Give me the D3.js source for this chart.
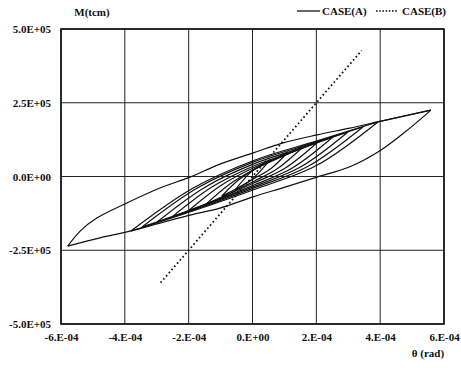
<!DOCTYPE html>
<html>
<head>
<meta charset="utf-8">
<script src="https://cdn.jsdelivr.net/npm/d3@7"></script>
<style>
  body { margin: 0; background: #fff; }
  text { font-family: "Liberation Serif", "Times New Roman", serif; font-weight: bold; font-size: 11px; fill: #111; }
</style>
</head>
<body>
<div id="vis"></div>
<script>
// ejes
const xTicks = [-6e-4, -4e-4, -2e-4, 0, 2e-4, 4e-4, 6e-4];
const xTickLabels = ["-6.E-04", "-4.E-04", "-2.E-04", "0.E+00", "2.E-04", "4.E-04", "6.E-04"];
const yTicks = [-5e5, -2.5e5, 0, 2.5e5, 5e5];
const yTickLabels = ["-5.0E+05", "-2.5E+05", "0.0E+00", "2.5E+05", "5.0E+05"];

// CASE(A): ramas de los lazos de histeresis [theta (rad), M (tcm)]
const loop0Up = [[0.55e-4, 0.56e5], [0.0, 0.20e5], [-0.55e-4, -0.46e5]];
const loop0Down = [[-0.55e-4, -0.46e5], [0.0, -0.08e5], [0.55e-4, 0.56e5]];
const loop1Up = [[1.11e-4, 0.83e5], [0.60e-4, 0.54e5], [0.08e-4, 0.25e5], [-0.44e-4, -0.12e5], [-0.96e-4, -0.66e5]];
const loop1Down = [[-0.96e-4, -0.66e5], [-0.44e-4, -0.37e5], [0.08e-4, -0.05e5], [0.60e-4, 0.29e5], [1.11e-4, 0.83e5]];
const loop2Up = [[1.58e-4, 1.00e5], [0.81e-4, 0.62e5], [0.05e-4, 0.24e5], [-0.72e-4, -0.26e5], [-1.49e-4, -0.97e5]];
const loop2Down = [[-1.49e-4, -0.97e5], [-0.72e-4, -0.57e5], [0.05e-4, -0.16e5], [0.81e-4, 0.29e5], [1.58e-4, 1.00e5]];
const loop3Up = [[2.05e-4, 1.17e5], [1.03e-4, 0.73e5], [0.02e-4, 0.29e5], [-1.00e-4, -0.31e5], [-2.02e-4, -1.17e5]];
const loop3Down = [[-2.02e-4, -1.17e5], [-1.00e-4, -0.72e5], [0.02e-4, -0.23e5], [1.03e-4, 0.29e5], [2.05e-4, 1.17e5]];
const loop4Up = [[2.52e-4, 1.34e5], [1.26e-4, 0.84e5], [0, 0.34e5], [-1.26e-4, -0.35e5], [-2.52e-4, -1.37e5]];
const loop4Down = [[-2.52e-4, -1.37e5], [-1.26e-4, -0.86e5], [0, -0.31e5], [1.26e-4, 0.30e5], [2.52e-4, 1.34e5]];
const loop5Up = [[2.99e-4, 1.51e5], [1.50e-4, 0.96e5], [0, 0.41e5], [-1.50e-4, -0.37e5], [-2.99e-4, -1.54e5]];
const loop5Down = [[-2.99e-4, -1.54e5], [-1.50e-4, -0.97e5], [0, -0.36e5], [1.50e-4, 0.32e5], [2.99e-4, 1.51e5]];
const loop6Up = [[3.46e-4, 1.68e5], [1.73e-4, 1.08e5], [0, 0.48e5], [-1.73e-4, -0.39e5], [-3.46e-4, -1.71e5]];
const loop6Down = [[-3.46e-4, -1.71e5], [-1.73e-4, -1.09e5], [0, -0.41e5], [1.73e-4, 0.34e5], [3.46e-4, 1.68e5]];
const loop7Up = [[3.93e-4, 1.85e5], [2.00e-4, 1.20e5], [0.06e-4, 0.55e5], [-1.87e-4, -0.40e5], [-3.81e-4, -1.85e5]];
const loop7Down = [[-3.81e-4, -1.85e5], [-1.87e-4, -1.17e5], [0.06e-4, -0.44e5], [2.00e-4, 0.37e5], [3.93e-4, 1.85e5]];
const outerLoad = [[3.93e-4, 1.85e5], [5.59e-4, 2.25e5]];
const outerUp = [[5.59e-4, 2.25e5], [4.03e-4, 1.88e5], [3.05e-4, 1.64e5], [2.02e-4, 1.41e5], [0.96e-4, 1.14e5],
  [0.02e-4, 0.80e5], [-1.02e-4, 0.42e5], [-1.96e-4, -0.02e5], [-2.90e-4, -0.39e5], [-3.94e-4, -0.90e5],
  [-4.88e-4, -1.41e5], [-5.40e-4, -1.85e5], [-5.79e-4, -2.36e5]];
const outerDown = [[-5.79e-4, -2.36e5], [-4.78e-4, -2.08e5], [-3.84e-4, -1.85e5], [-2.90e-4, -1.58e5],
  [-1.96e-4, -1.31e5], [-1.02e-4, -1.07e5], [0.02e-4, -0.69e5], [1.02e-4, -0.36e5], [2.02e-4, -0.02e5],
  [3.05e-4, 0.33e5], [4.03e-4, 0.90e5], [4.93e-4, 1.64e5], [5.59e-4, 2.25e5]];

// CASE(B): recta elastica
const caseB = [[-2.88e-4, -3.60e5], [0, 0], [3.42e-4, 4.27e5]];

const caseA = [loop0Up, loop0Down, loop1Up, loop1Down, loop2Up, loop2Down, loop3Up, loop3Down,
  loop4Up, loop4Down, loop5Up, loop5Down, loop6Up, loop6Down, loop7Up, loop7Down,
  outerLoad, outerUp, outerDown];

const WIDTH = 461;
const HEIGHT = 374;
const PLOT = { left: 61, right: 444, top: 29, bottom: 324 };

const svg = d3.select("#vis")
  .append("svg")
  .attr("width", WIDTH)
  .attr("height", HEIGHT);

const x = d3.scaleLinear().domain([-6e-4, 6e-4]).range([PLOT.left, PLOT.right]);
const y = d3.scaleLinear().domain([-5e5, 5e5]).range([PLOT.bottom, PLOT.top]);

// grilla
svg.append("g")
  .selectAll("line")
  .data(xTicks)
  .join("line")
  .attr("x1", d => x(d)).attr("x2", d => x(d))
  .attr("y1", PLOT.top).attr("y2", PLOT.bottom)
  .attr("stroke", "#222").attr("stroke-width", 1);

svg.append("g")
  .selectAll("line")
  .data(yTicks)
  .join("line")
  .attr("x1", PLOT.left).attr("x2", PLOT.right)
  .attr("y1", d => y(d)).attr("y2", d => y(d))
  .attr("stroke", "#222").attr("stroke-width", 1);

svg.append("rect")
  .attr("x", PLOT.left).attr("y", PLOT.top)
  .attr("width", PLOT.right - PLOT.left).attr("height", PLOT.bottom - PLOT.top)
  .attr("fill", "none").attr("stroke", "#111").attr("stroke-width", 1.6);

// ejes (solo etiquetas)
const xAxis = svg.append("g")
  .attr("transform", `translate(0, ${PLOT.bottom})`)
  .call(d3.axisBottom(x).tickValues(xTicks).tickSize(0).tickPadding(9)
    .tickFormat((d, i) => xTickLabels[i]));
xAxis.select(".domain").remove();

const yAxis = svg.append("g")
  .attr("transform", `translate(${PLOT.left}, 0)`)
  .call(d3.axisLeft(y).tickValues(yTicks).tickSize(0).tickPadding(10)
    .tickFormat((d, i) => yTickLabels[i]));
yAxis.select(".domain").remove();

svg.selectAll(".tick text")
  .attr("font-family", null).attr("font-size", null).attr("fill", null);

// curvas
const line = d3.line()
  .x(d => x(d[0]))
  .y(d => y(d[1]))
  .curve(d3.curveCatmullRom.alpha(0.5));

svg.append("g")
  .selectAll("path")
  .data(caseA)
  .join("path")
  .attr("d", line)
  .attr("fill", "none")
  .attr("stroke", "#111")
  .attr("stroke-width", 1.2);

svg.append("path")
  .datum(caseB)
  .attr("d", d3.line().x(d => x(d[0])).y(d => y(d[1])))
  .attr("fill", "none")
  .attr("stroke", "#111")
  .attr("stroke-width", 1.8)
  .attr("stroke-dasharray", "1.6,2.6");

// titulos
svg.append("text").attr("x", 92).attr("y", 16).attr("text-anchor", "middle").text("M(tcm)");
svg.append("text").attr("x", 428).attr("y", 357).attr("text-anchor", "middle").text("θ (rad)");

// leyenda
svg.append("line").attr("x1", 297).attr("x2", 320).attr("y1", 11).attr("y2", 11)
  .attr("stroke", "#111").attr("stroke-width", 1.3);
svg.append("text").attr("x", 322).attr("y", 15).text("CASE(A)");
svg.append("line").attr("x1", 376).attr("x2", 398).attr("y1", 11).attr("y2", 11)
  .attr("stroke", "#111").attr("stroke-width", 1.6).attr("stroke-dasharray", "1.6,1.6");
svg.append("text").attr("x", 402).attr("y", 15).text("CASE(B)");
</script>
</body>
</html>
